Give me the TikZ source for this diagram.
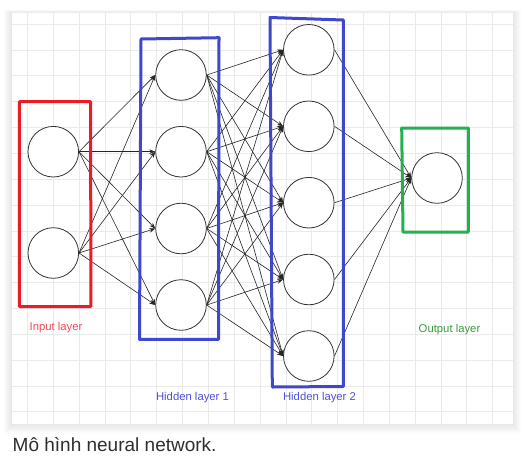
\documentclass[tikz,border=0pt]{standalone}
\usepackage{fontspec}
\setmainfont{Liberation Sans}
\usetikzlibrary{arrows.meta}
\definecolor{paintred}{HTML}{ED1C24}
\definecolor{paintblue}{HTML}{3F48CC}
\definecolor{paintgreen}{HTML}{22B14C}
\definecolor{lblred}{HTML}{F04858}
\definecolor{lblblue}{HTML}{4F4FE0}
\definecolor{lblgreen}{HTML}{3A9E3A}
\definecolor{gridc}{HTML}{EAEAEA}
\definecolor{capc}{HTML}{2E2E2E}
\begin{document}
\begin{tikzpicture}[x=1pt,y=-1pt,
  neuron/.style={circle,draw=black!80,line width=0.8pt,fill=white,minimum size=50.6pt,inner sep=0pt},
  link/.style={-{Stealth[length=6pt,width=4.5pt]},line width=0.6pt,black!85},
  layerbox/.style={line width=3pt,line join=round,line cap=round},
  lbl/.style={font=\fontsize{11.3}{13}\selectfont,anchor=base,inner sep=0pt}]
\useasboundingbox (0,0) rectangle (526,466);
\fill[white] (0,0) rectangle (526,466);
% card shadow
\foreach \s in {1,...,8}
  \fill[black,opacity=0.012] ({12-\s},{13-0.4*\s}) rectangle ({513+\s},{424+1.2*\s});
\fill[white] (12,13) rectangle (513,424);
% grid
\foreach \k in {0,...,18}
  \draw[gridc,line width=0.6pt] ({27.3+25.85*\k},13) -- ({27.3+25.85*\k},424);
\foreach \k in {0,...,15}
  \draw[gridc,line width=0.6pt] (12,{24+25.85*\k}) -- (513,{24+25.85*\k});
% neurons
\node[neuron] (i1) at (53.3,151.7) {};
\node[neuron] (i2) at (53.3,253) {};
\node[neuron] (h1) at (181,75) {};
\node[neuron] (h2) at (181,151.7) {};
\node[neuron] (h3) at (181,228.5) {};
\node[neuron] (h4) at (181,305) {};
\node[neuron] (k1) at (308.8,49.8) {};
\node[neuron] (k2) at (308.8,126.3) {};
\node[neuron] (k3) at (308.8,202.7) {};
\node[neuron] (k4) at (308.8,279.5) {};
\node[neuron] (k5) at (308.8,356) {};
\node[neuron] (o) at (437,178) {};
% connections
\foreach \a in {i1,i2}
  \foreach \b in {h1,h2,h3,h4}
    \draw[link] (\a.east) -- (\b.west);
\foreach \a in {h1,h2,h3,h4}
  \foreach \b in {k1,k2,k3,k4,k5}
    \draw[link] (\a.east) -- (\b.west);
\foreach \a in {k1,k2,k3,k4,k5}
  \draw[link] (\a.east) -- (o.west);
% layer boxes
\draw[layerbox,paintred] (19.3,101.7) -- (90.7,101.7) -- (90.8,306.5) -- (19.3,306.5) -- cycle;
\draw[layerbox,paintblue] (141,39) -- (219,37.7) -- (218.5,339.3) -- (139.5,339.3) -- cycle;
\draw[layerbox,paintblue] (270,17.5) -- (343.3,20) -- (343.3,386.5) -- (272.3,387) -- cycle;
\draw[layerbox,paintgreen] (401.7,128) -- (468.3,128) -- (468.3,232) -- (403,232) -- cycle;
% labels
\node[lbl,text=lblred] (li) at (56,330.5) {Input layer};
\node[lbl,text=lblblue] (lh1) at (192.5,400.5) {Hidden layer 1};
\node[lbl,text=lblblue] (lh2) at (319.5,400.5) {Hidden layer 2};
\node[lbl,text=lblgreen] (lo) at (449.5,332) {Output layer};
% caption
\node[anchor=base west,inner sep=0pt,font=\fontsize{19}{22}\selectfont,text=capc] (cap) at (12.5,451.7) {Mô hình neural network.};
\end{tikzpicture}
\end{document}
